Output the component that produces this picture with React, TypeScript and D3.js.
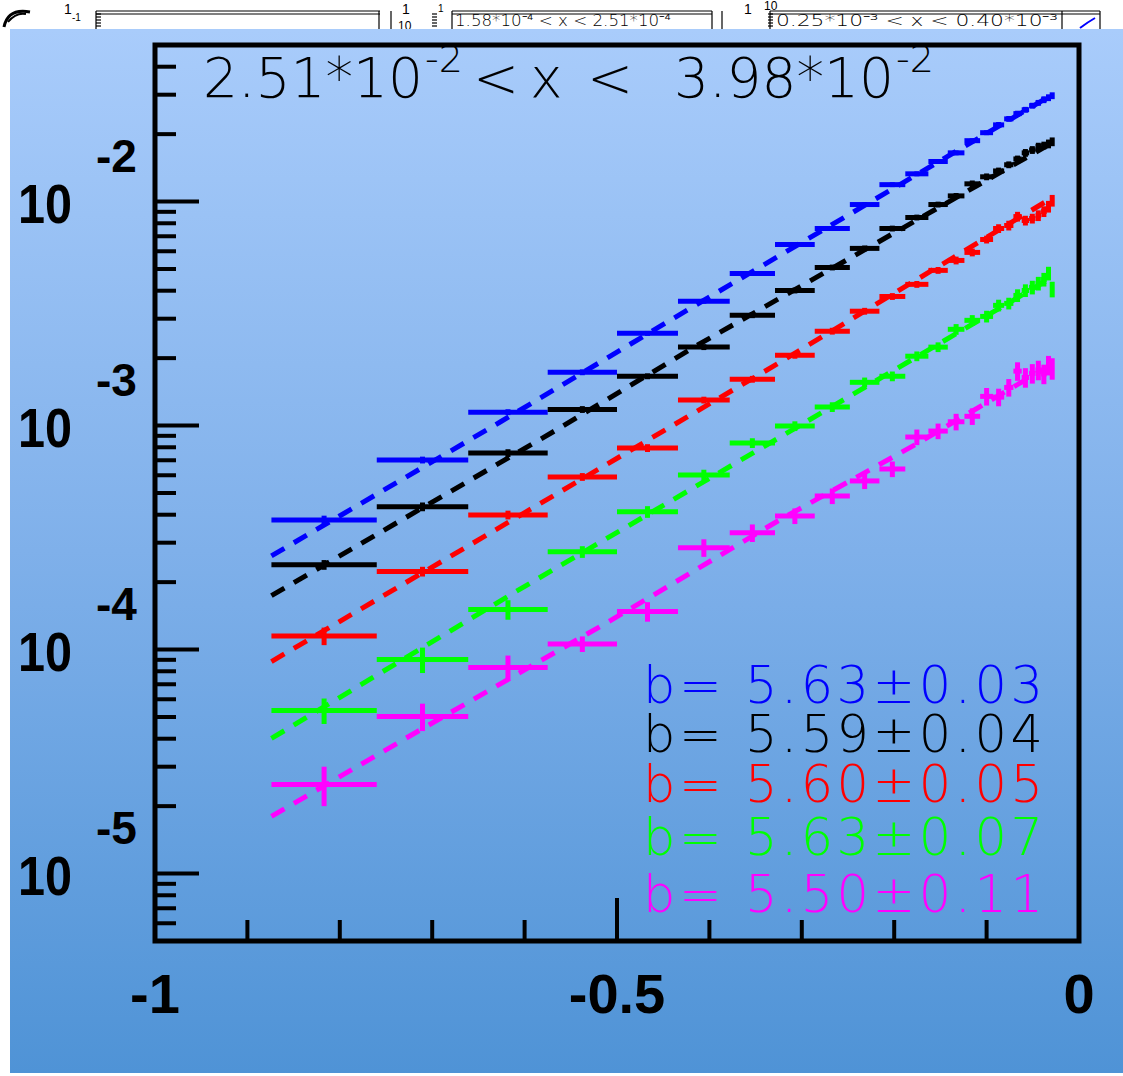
import React from "react";
import * as d3 from "d3";

// ---------- data ----------
const binEdges = [
  -0.874, -0.76, -0.661, -0.575, -0.5, -0.434, -0.378, -0.329, -0.286, -0.248,
  -0.216, -0.188, -0.163, -0.142, -0.124, -0.107, -0.093, -0.081, -0.071, -0.062,
  -0.054, -0.047, -0.041, -0.035, -0.031, -0.027,
];

const blueValues = [
  3.79e-4, 7.02e-4, 1.148e-3, 1.73e-3, 2.58e-3, 3.59e-3, 4.78e-3, 6.44e-3, 7.58e-3, 9.7e-3,
  1.19e-2, 1.33e-2, 1.51e-2, 1.65e-2, 1.87e-2, 2.03e-2, 2.2e-2, 2.34e-2, 2.47e-2, 2.57e-2,
  2.68e-2, 2.76e-2, 2.85e-2, 2.91e-2, 2.97e-2,
];
const blackValues = [
  2.39e-4, 4.34e-4, 7.54e-4, 1.18e-3, 1.66e-3, 2.24e-3, 3.11e-3, 4.01e-3, 5.08e-3, 6.18e-3,
  7.58e-3, 8.49e-3, 9.7e-3, 1.06e-2, 1.2e-2, 1.29e-2, 1.37e-2, 1.46e-2, 1.55e-2, 1.65e-2,
  1.7e-2, 1.76e-2, 1.78e-2, 1.81e-2, 1.85e-2,
];
const redValues = [
  1.15e-4, 2.23e-4, 3.99e-4, 5.9e-4, 7.94e-4, 1.3e-3, 1.61e-3, 2.06e-3, 2.64e-3, 3.24e-3,
  3.77e-3, 4.27e-3, 4.93e-3, 5.46e-3, 5.93e-3, 6.77e-3, 7.58e-3, 7.82e-3, 8.57e-3, 8.23e-3,
  8.4e-3, 8.66e-3, 9.03e-3, 9.5e-3, 1.01e-2,
];
const greenValues = [
  5.35e-5, 9.03e-5, 1.51e-4, 2.73e-4, 4.12e-4, 6.02e-4, 8.36e-4, 9.95e-4, 1.21e-3, 1.56e-3,
  1.66e-3, 2.04e-3, 2.24e-3, 2.69e-3, 2.95e-3, 3.07e-3, 3.44e-3, 3.51e-3, 3.81e-3, 4.01e-3,
  4.14e-3, 4.31e-3, 4.49e-3, 4.78e-3, 4.06e-3,
];
const magentaValues = [
  2.5e-5, 5.03e-5, 8.32e-5, 1.06e-4, 1.48e-4, 2.85e-4, 3.32e-4, 3.95e-4, 4.85e-4, 5.66e-4,
  6.4e-4, 8.89e-4, 9.45e-4, 1.04e-3, 1.1e-3, 1.35e-3, 1.34e-3, 1.48e-3, 1.75e-3, 1.64e-3,
  1.71e-3, 1.77e-3, 1.7e-3, 1.86e-3, 1.8e-3,
];

// relative errors
const blueErrors = [
  0.045, 0.035, 0.03, 0.03, 0.025, 0.025, 0.025, 0.025, 0.025, 0.025, 0.025, 0.025, 0.025,
  0.025, 0.025, 0.025, 0.03, 0.03, 0.03, 0.03, 0.03, 0.03, 0.035, 0.035, 0.035,
];
const blackErrors = [
  0.05, 0.045, 0.04, 0.035, 0.03, 0.03, 0.03, 0.03, 0.03, 0.03, 0.03, 0.03, 0.03, 0.03,
  0.035, 0.035, 0.035, 0.035, 0.035, 0.04, 0.04, 0.04, 0.04, 0.045, 0.045,
];
const redErrors = [
  0.09, 0.05, 0.045, 0.04, 0.04, 0.035, 0.035, 0.035, 0.035, 0.035, 0.035, 0.035, 0.035,
  0.04, 0.04, 0.04, 0.045, 0.05, 0.05, 0.05, 0.05, 0.055, 0.055, 0.06, 0.06,
];
const greenErrors = [
  0.13, 0.13, 0.1, 0.06, 0.06, 0.055, 0.05, 0.05, 0.05, 0.05, 0.05, 0.05, 0.05, 0.055,
  0.055, 0.06, 0.06, 0.06, 0.065, 0.065, 0.07, 0.07, 0.07, 0.07, 0.08,
];
const magentaErrors = [
  0.2, 0.14, 0.13, 0.08, 0.1, 0.09, 0.09, 0.08, 0.08, 0.08, 0.08, 0.08, 0.08, 0.085, 0.085,
  0.09, 0.09, 0.09, 0.095, 0.1, 0.1, 0.1, 0.1, 0.1, 0.11,
];

// fitted curves (x, value)
const blueFitX = [-0.874, -0.626, -0.417, -0.029];
const blueFitY = [2.62e-4, 1.04e-3, 3.41e-3, 3.0e-2];
const blackFitX = [-0.874, -0.564, -0.415, -0.029];
const blackFitY = [1.74e-4, 9.65e-4, 2.26e-3, 1.83e-2];
const redFitX = [-0.874, -0.626, -0.327, -0.029];
const redFitY = [8.84e-5, 3.53e-4, 1.88e-3, 1.04e-2];
const greenFitX = [-0.874, -0.61, -0.327, -0.029];
const greenFitY = [4.01e-5, 1.81e-4, 8.71e-4, 4.59e-3];
const magentaFitX = [-0.874, -0.71, -0.504, -0.326, -0.176, -0.029];
const magentaFitY = [1.8e-5, 4.45e-5, 1.37e-4, 3.75e-4, 8.27e-4, 1.88e-3];

const seriesColors = ["#0000ff", "#000000", "#ff0000", "#00ff00", "#ff00ff"];
const legendLabels = [
  "b= 5.63\u00b10.03",
  "b= 5.59\u00b10.04",
  "b= 5.60\u00b10.05",
  "b= 5.63\u00b10.07",
  "b= 5.50\u00b10.11",
];
const xTickLabels = ["-1", "-0.5", "0"];
const xTickValues = [-1, -0.5, 0];
const xMinorValues = [-0.9, -0.8, -0.7, -0.6, -0.4, -0.3, -0.2, -0.1];
const yDecadeExponents = [-2, -3, -4, -5];

const thinFont = "'DejaVu Sans', sans-serif";
const boldFont = "'Liberation Sans', Arial, sans-serif";

export default function App() {
  const W = 1123;
  const H = 1076;
  const left = 155, right = 1079, top = 45, bottom = 941;
  const x = d3.scaleLinear().domain([-1, 0]).range([left, right]);
  const y = d3.scaleLog().domain([5e-6, 5e-2]).range([bottom, top]);

  const series = [
    { v: blueValues, e: blueErrors, fx: blueFitX, fy: blueFitY },
    { v: blackValues, e: blackErrors, fx: blackFitX, fy: blackFitY },
    { v: redValues, e: redErrors, fx: redFitX, fy: redFitY },
    { v: greenValues, e: greenErrors, fx: greenFitX, fy: greenFitY },
    { v: magentaValues, e: magentaErrors, fx: magentaFitX, fy: magentaFitY },
  ];

  const line = d3
    .line<[number, number]>()
    .x((d) => x(d[0]))
    .y((d) => y(d[1]));

  const yMinor: number[] = [];
  for (let d = -6; d <= -2; d++) {
    for (let k = 2; k <= 9; k++) {
      const val = k * Math.pow(10, d);
      if (val > 5e-6 && val < 5e-2) yMinor.push(val);
    }
  }

  const legendBaselines = [703, 752, 802, 855, 912];

  return (
    <svg
      width={W}
      height={H}
      style={{ position: "absolute", left: 0, top: 0 }}
      xmlns="http://www.w3.org/2000/svg"
    >
      <defs>
        <linearGradient id="bg" x1="0" y1="0" x2="0" y2="1">
          <stop offset="0" stopColor="#a9ccfb" />
          <stop offset="0.5" stopColor="#7fb0ea" />
          <stop offset="1" stopColor="#4f93d6" />
        </linearGradient>
      </defs>
      <rect x={0} y={0} width={W} height={H} fill="#ffffff" />

      {/* top strip: fragments of neighbouring plots */}
      <g stroke="#000" fill="none" strokeWidth={1.2}>
        <path d="M4,27 Q8,8 30,12" strokeWidth={3} />
        <path d="M8,22 Q16,12 26,14" strokeWidth={2} />
        <line x1={96} y1={11} x2={380} y2={11} />
        <line x1={96} y1={14} x2={380} y2={14} />
        <line x1={96} y1={11} x2={96} y2={29} />
        <line x1={379} y1={11} x2={379} y2={29} />
        <line x1={391} y1={11} x2={391} y2={29} />
        {[14, 17, 20, 23, 26].map((yy) => (
          <line key={"e1" + yy} x1={96} y1={yy} x2={101} y2={yy} />
        ))}
        <line x1={452} y1={11} x2={712} y2={11} />
        <line x1={452} y1={14} x2={712} y2={14} />
        <line x1={452} y1={11} x2={452} y2={29} />
        <line x1={712} y1={11} x2={712} y2={29} />
        <line x1={722} y1={11} x2={722} y2={29} />
        {[14, 17, 20, 23, 26].map((yy) => (
          <line key={"e2" + yy} x1={432} y1={yy} x2={437} y2={yy} />
        ))}
        <line x1={770} y1={11} x2={1100} y2={11} />
        <line x1={770} y1={14} x2={1100} y2={14} />
        <line x1={770} y1={11} x2={770} y2={29} />
        <line x1={1062} y1={11} x2={1062} y2={29} />
        <line x1={1100} y1={11} x2={1100} y2={29} />
        {[14, 17, 20, 23, 26].map((yy) => (
          <line key={"e3" + yy} x1={768} y1={yy} x2={773} y2={yy} />
        ))}
      </g>
      <path d="M1080,28 Q1088,22 1095,18" stroke="#0000ff" strokeWidth={2} fill="none" />
      <g fontFamily={boldFont} fill="#000">
        <text x={64} y={14} fontSize={14}>1</text>
        <text x={72} y={21} fontSize={10}>-1</text>
        <text x={402} y={14} fontSize={14}>1</text>
        <text x={398} y={30} fontSize={12}>10</text>
        <text x={438} y={12} fontSize={10}>1</text>
        <text x={744} y={14} fontSize={14}>1</text>
        <text x={764} y={10} fontSize={12}>10</text>
      </g>
      <g fontFamily={thinFont} fill="#000" fontWeight={300}>
        <text x={455} y={26} fontSize={16} textLength={216} lengthAdjust="spacingAndGlyphs">
          1.58*10⁻⁴ &lt; x &lt; 2.51*10⁻⁴
        </text>
        <text x={776} y={26} fontSize={16} textLength={282} lengthAdjust="spacingAndGlyphs">
          0.25*10⁻³ &lt; x &lt; 0.40*10⁻³
        </text>
      </g>

      {/* slide panel */}
      <rect x={10} y={29} width={W - 10} height={1044} fill="url(#bg)" />

      {/* data points */}
      {series.map((s, si) => (
        <g key={"s" + si} stroke={seriesColors[si]} strokeWidth={5}>
          {s.v.map((v, i) => {
            const x0 = x(binEdges[i]);
            const x1 = x(binEdges[i + 1]);
            const xc = (x0 + x1) / 2;
            return (
              <g key={i}>
                <line x1={x0} x2={x1} y1={y(v)} y2={y(v)} />
                <line x1={xc} x2={xc} y1={y(v * (1 + s.e[i]))} y2={y(v * (1 - s.e[i]))} />
              </g>
            );
          })}
        </g>
      ))}

      {/* fit curves */}
      {series.map((s, si) => (
        <path
          key={"f" + si}
          d={line(s.fx.map((xx, i) => [xx, s.fy[i]] as [number, number])) || ""}
          fill="none"
          stroke={seriesColors[si]}
          strokeWidth={5}
          strokeDasharray="15 11"
        />
      ))}

      {/* frame */}
      <rect
        x={left}
        y={top}
        width={right - left}
        height={bottom - top}
        fill="none"
        stroke="#000"
        strokeWidth={5}
      />

      {/* y axis ticks */}
      <g stroke="#000" strokeWidth={4}>
        {yMinor.map((v, i) => (
          <line key={"ym" + i} x1={left} x2={left + 21} y1={y(v)} y2={y(v)} />
        ))}
        {yDecadeExponents.map((p) => (
          <line key={"yM" + p} x1={left} x2={left + 44} y1={y(Math.pow(10, p))} y2={y(Math.pow(10, p))} />
        ))}
      </g>
      <g fontFamily={boldFont} fontWeight="bold" fill="#000">
        {yDecadeExponents.map((p) => {
          const yy = y(Math.pow(10, p));
          return (
            <g key={"yl" + p}>
              <text x={18} y={yy + 21} fontSize={55} textLength={54} lengthAdjust="spacingAndGlyphs">
                10
              </text>
              <text x={96} y={yy - 30} fontSize={46}>
                {String(p)}
              </text>
            </g>
          );
        })}
      </g>

      {/* x axis ticks */}
      <g stroke="#000" strokeWidth={4}>
        {xMinorValues.map((v) => (
          <line key={"xm" + v} x1={x(v)} x2={x(v)} y1={bottom} y2={bottom - 21} />
        ))}
        {xTickValues.map((v) => (
          <line key={"xM" + v} x1={x(v)} x2={x(v)} y1={bottom} y2={bottom - 43} />
        ))}
      </g>
      <g fontFamily={boldFont} fontWeight="bold" fill="#000">
        {xTickValues.map((v, i) => (
          <text key={"xl" + v} x={x(v)} y={1013} fontSize={56} textAnchor="middle">
            {xTickLabels[i]}
          </text>
        ))}
      </g>

      {/* title */}
      <g fontFamily={thinFont} fontWeight={200} fill="#000">
        <text x={203} y={97} fontSize={55}>2.51*10</text>
        <text x={425} y={72} fontSize={38}>-2</text>
        <text x={473} y={97} fontSize={55}>&lt;</text>
        <text x={530} y={97} fontSize={55}>x</text>
        <text x={587} y={97} fontSize={55}>&lt;</text>
        <text x={674} y={97} fontSize={55}>3.98*10</text>
        <text x={896} y={72} fontSize={38}>-2</text>
      </g>

      {/* legend */}
      <g fontFamily={thinFont} fontWeight={200}>
        {legendLabels.map((t, i) => (
          <text
            key={"lg" + i}
            x={643}
            y={legendBaselines[i]}
            fontSize={51}
            fill={seriesColors[i]}
            textLength={400}
            lengthAdjust="spacing"
          >
            {t}
          </text>
        ))}
      </g>
    </svg>
  );
}
